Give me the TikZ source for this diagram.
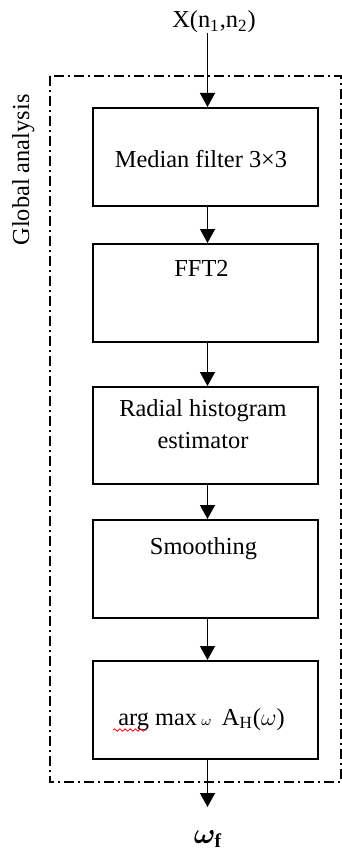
\documentclass[tikz,border=0pt]{standalone}
\usepackage{fontspec}
\setmainfont{Liberation Serif}
\usepackage{amsmath,bm}
\usetikzlibrary{arrows.meta,decorations.pathmorphing}
\begin{document}
\begin{tikzpicture}[x=0.5pt,y=-0.5pt,
  box/.style={draw, line width=0.9pt, minimum width=112.5pt, minimum height=49pt, inner sep=0pt, anchor=north west},
  txt/.style={anchor=base, inner sep=0pt, font=\fontsize{12.2}{16}\selectfont, align=center},
  arr/.style={line width=0.7pt, -{Triangle[length=7pt,width=7.5pt]}},
  frame/.style={line width=0.6pt, dash pattern=on 5pt off 2pt on 1pt off 2pt}]
\useasboundingbox (0,0) rectangle (342,850);
% frame
\draw[frame] (50,76) rectangle (341,782);
\node[txt, rotate=90] (ga) at (29,170) {Global analysis};
% boxes
\node[box] (b1) at (92,107) {};
\node[box] (b2) at (92,243) {};
\node[box, minimum height=48.5pt] (b3) at (92,386) {};
\node[box] (b4) at (92,519) {};
\node[box] (b5) at (92,660) {};
% texts
\node[txt] (x) at (214,28) {X(n\textsubscript{1},n\textsubscript{2})};
\node[txt] (t1) at (201,167.5) {Median filter 3×3};
\node[txt] (t2) at (201.5,276) {FFT2};
\node[txt, anchor=base] (t3a) at (203,416) {Radial histogram};
\node[txt, anchor=base] (t3b) at (203,448) {estimator};
\node[txt] (t4) at (203.5,554) {Smoothing};
\node[txt] (t5) at (201.5,725) {arg max\,{\fontsize{7}{8}\selectfont$\omega$}\,\ A\textsubscript{H}($\omega$)};
\draw[red, line width=0.4pt, decorate, decoration={snake, amplitude=0.6pt, segment length=2.6pt}] (113,730) -- (147,730);
\node[txt, font=\fontsize{14}{16}\selectfont] (wf) at (208,843) {$\bm{\omega}_{\mathbf{f}}$};
% arrows
\coordinate (xin) at (207.5,33);
\coordinate (outend) at (207.5,807);
\draw[arr] (xin) -- (b1.north -| xin);
\draw[arr] (b1.south -| xin) -- (b2.north -| xin);
\draw[arr] (b2.south -| xin) -- (b3.north -| xin);
\draw[arr] (b3.south -| xin) -- (b4.north -| xin);
\draw[arr] (b4.south -| xin) -- (b5.north -| xin);
\draw[arr] (b5.south -| xin) -- (outend);
\end{tikzpicture}
\end{document}
